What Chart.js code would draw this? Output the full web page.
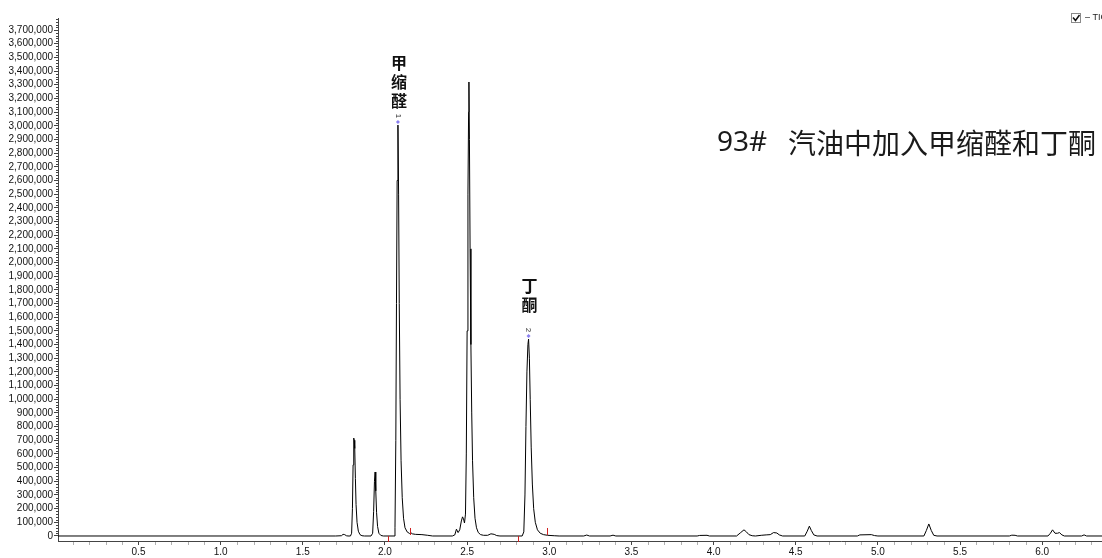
<!DOCTYPE html>
<html>
<head>
<meta charset="utf-8">
<script src="https://cdn.jsdelivr.net/npm/chart.js@4"></script>
<style>
  html, body { margin: 0; padding: 0; background: #fff; }
  canvas { display: block; }
</style>
</head>
<body>
<canvas id="tic" width="1102" height="558"></canvas>
<script>
// Retention time (min) of each sampled point of the TIC trace
const retentionTime = [
  0.01, 1.70, 1.735, 1.745, 1.755, 1.765, 1.775, 1.790,
  1.797, 1.802, 1.806, 1.810, 1.813, 1.816, 1.820, 1.824, 1.830, 1.838, 1.848, 1.860, 1.875,
  1.915, 1.925, 1.931, 1.936, 1.940, 1.944, 1.949, 1.955, 1.963, 1.975, 1.990,
  2.055, 2.061, 2.066, 2.070, 2.074, 2.079, 2.083, 2.087, 2.092, 2.098, 2.105, 2.113, 2.122,
  2.135, 2.150, 2.158, 2.166, 2.185, 2.225, 2.260, 2.290,
  2.410, 2.425, 2.435, 2.445, 2.455, 2.465, 2.472, 2.478, 2.484, 2.490, 2.495, 2.500, 2.505,
  2.509, 2.511, 2.514, 2.518, 2.523, 2.528, 2.533, 2.540, 2.548, 2.557, 2.568, 2.582, 2.600,
  2.625, 2.645, 2.665, 2.680, 2.700,
  2.835, 2.845, 2.852, 2.858, 2.864, 2.870, 2.874, 2.879, 2.884, 2.890, 2.897, 2.905, 2.915,
  2.928, 2.945, 2.965, 2.990, 3.030, 3.060,
  3.210, 3.228, 3.245, 3.370, 3.388, 3.405,
  3.900, 3.915, 3.960, 3.975,
  4.140, 4.165, 4.185, 4.200, 4.215, 4.235, 4.255, 4.290, 4.320, 4.345, 4.365, 4.385, 4.400, 4.420,
  4.555, 4.570, 4.583, 4.595, 4.610, 4.630,
  4.875, 4.890, 4.960, 4.980, 5.000,
  5.280, 5.295, 5.310, 5.325, 5.340, 5.360,
  5.800, 5.815, 5.835, 5.850,
  6.035, 6.050, 6.063, 6.078, 6.093, 6.105, 6.120, 6.135,
  6.240, 6.255, 6.270, 6.364
];

// Abundance (counts) at each retention time above
const abundance = [
  0, 0, 2000, 12000, 10000, 2000, 0, 0,
  20000, 200000, 520000, 716000, 700000, 640000, 420000, 230000, 100000, 35000, 10000, 2000, 0,
  0, 20000, 180000, 400000, 468000, 330000, 170000, 70000, 20000, 4000, 0,
  0, 60000, 700000, 1700000, 2600000, 3005000, 2500000, 1700000, 1000000, 550000, 280000, 130000, 60000,
  30000, 18000, 24000, 16000, 12000, 10000, 5000, 0,
  0, 8000, 50000, 25000, 45000, 110000, 140000, 125000, 95000, 160000, 600000, 1500000, 2500000,
  3100000, 3320000, 2900000, 2100000, 1400000, 900000, 550000, 280000, 130000, 60000, 25000, 10000, 5000,
  5000, 16000, 12000, 3000, 0,
  0, 30000, 300000, 800000, 1200000, 1400000, 1440000, 1300000, 1000000, 650000, 380000, 200000, 100000,
  45000, 20000, 10000, 5000, 2000, 0,
  0, 7000, 0, 0, 6000, 0,
  0, 4000, 5000, 0,
  0, 25000, 45000, 30000, 10000, 2000, 0, 5000, 8000, 10000, 25000, 22000, 8000, 0,
  0, 35000, 72000, 40000, 8000, 0,
  0, 8000, 10000, 3000, 0,
  0, 40000, 88000, 40000, 5000, 0,
  0, 6000, 5000, 0,
  0, 20000, 45000, 20000, 20000, 25000, 8000, 0,
  0, 8000, 0, 0
];

// Axis tick labels
const xTicks = [0.5, 1.0, 1.5, 2.0, 2.5, 3.0, 3.5, 4.0, 4.5, 5.0, 5.5, 6.0];
const yTicks = [
  0, 100000, 200000, 300000, 400000, 500000, 600000, 700000, 800000, 900000,
  1000000, 1100000, 1200000, 1300000, 1400000, 1500000, 1600000, 1700000, 1800000, 1900000,
  2000000, 2100000, 2200000, 2300000, 2400000, 2500000, 2600000, 2700000, 2800000, 2900000,
  3000000, 3100000, 3200000, 3300000, 3400000, 3500000, 3600000, 3700000
];

// Identified peaks: apex time, apex abundance, peak number, compound name
const peakTimes = [2.079, 2.874];
const peakHeights = [3005000, 1440000];
const peakNumbers = ['1', '2'];
const peakNames = ['甲缩醛', '丁酮'];

// Integration start/end marks (min) and whether they sit below or above the baseline
const markTimes = [2.018, 2.152, 2.810, 2.986];
const markSides = ['below', 'above', 'below', 'above'];

const titleNumber = '93#';
const titleText = '汽油中加入甲缩醛和丁酮';

const AXIS = '#444';
const LABEL_FONT = '10px "Liberation Sans", Arial, sans-serif';

const decorations = {
  id: 'decorations',
  afterDatasetsDraw(chart) {
    const { ctx, scales: { x, y }, chartArea } = chart;
    ctx.save();

    // minor ticks on the abundance axis
    ctx.strokeStyle = AXIS;
    ctx.lineWidth = 1;
    ctx.beginPath();
    for (let v = 20000; v <= 3780000; v += 20000) {
      if (v % 100000 === 0) continue;
      const py = Math.round(y.getPixelForValue(v)) + 0.5;
      ctx.moveTo(chartArea.left - 2, py);
      ctx.lineTo(chartArea.left, py);
    }
    ctx.stroke();

    // minor ticks on the time axis
    ctx.strokeStyle = '#b0b0b0';
    ctx.beginPath();
    for (let k = 1; k <= 63; k++) {
      if (k % 5 === 0) continue;
      const px = Math.round(x.getPixelForValue(k / 10)) + 0.5;
      ctx.moveTo(px, chartArea.bottom + 1);
      ctx.lineTo(px, chartArea.bottom + 4);
    }
    ctx.stroke();

    // integration marks
    const base = y.getPixelForValue(0);
    ctx.strokeStyle = '#d02020';
    ctx.beginPath();
    markTimes.forEach((t, i) => {
      const px = Math.round(x.getPixelForValue(t)) + 0.5;
      if (markSides[i] === 'below') {
        ctx.moveTo(px, base);
        ctx.lineTo(px, base + 6);
      } else {
        ctx.moveTo(px, base - 1);
        ctx.lineTo(px, base - 8);
      }
    });
    ctx.stroke();

    // peak markers and compound names
    const nameLift = [18, 28];
    peakTimes.forEach((t, i) => {
      const px = x.getPixelForValue(t);
      const py = y.getPixelForValue(peakHeights[i]);
      // diamond
      ctx.fillStyle = '#8a7ff0';
      ctx.beginPath();
      ctx.moveTo(px, py - 5);
      ctx.lineTo(px + 2, py - 3);
      ctx.lineTo(px, py - 1);
      ctx.lineTo(px - 2, py - 3);
      ctx.closePath();
      ctx.fill();
      // rotated peak number
      ctx.save();
      ctx.translate(px, py - 9);
      ctx.rotate(Math.PI / 2);
      ctx.fillStyle = '#333';
      ctx.font = '8px "Liberation Sans", Arial, sans-serif';
      ctx.textAlign = 'center';
      ctx.textBaseline = 'middle';
      ctx.fillText(peakNumbers[i], 0, 0);
      ctx.restore();
      // vertical compound name
      ctx.fillStyle = '#111';
      ctx.font = 'bold 16px "Noto Sans CJK SC", sans-serif';
      ctx.textAlign = 'center';
      ctx.textBaseline = 'bottom';
      const chars = Array.from(peakNames[i]);
      const bottom = py - nameLift[i];
      chars.forEach((c, j) => {
        ctx.fillText(c, px + 1, bottom - (chars.length - 1 - j) * 19 + 2);
      });
    });

    // sample title
    ctx.fillStyle = '#1a1a1a';
    ctx.textBaseline = 'middle';
    ctx.textAlign = 'left';
    ctx.font = '28px "Noto Sans", "Noto Sans CJK SC", sans-serif';
    ctx.fillText(titleNumber, 717, 143);
    ctx.font = '28px "Noto Sans CJK SC", sans-serif';
    ctx.fillText(titleText, 788, 143);

    // trace selector in the corner
    ctx.strokeStyle = '#8a8a8a';
    ctx.lineWidth = 1;
    ctx.strokeRect(1071.5, 13.5, 9, 9);
    ctx.strokeStyle = '#111';
    ctx.lineWidth = 1.5;
    ctx.beginPath();
    ctx.moveTo(1073, 17.5);
    ctx.lineTo(1075.5, 20.5);
    ctx.lineTo(1079.5, 15);
    ctx.stroke();
    ctx.fillStyle = '#222';
    ctx.font = '9px "Liberation Sans", Arial, sans-serif';
    ctx.textBaseline = 'middle';
    ctx.fillText('– TIC: 1.D', 1085, 18);

    ctx.restore();
  }
};

new Chart(document.getElementById('tic'), {
  type: 'line',
  data: {
    datasets: [{
      data: retentionTime.map((t, i) => ({ x: t, y: abundance[i] })),
      borderColor: '#000',
      borderWidth: 1,
      pointRadius: 0,
      tension: 0,
      fill: false
    }]
  },
  options: {
    responsive: false,
    animation: false,
    events: [],
    layout: { padding: { top: 18, left: 0, right: 0, bottom: 0 } },
    plugins: { legend: { display: false }, tooltip: { enabled: false } },
    scales: {
      x: {
        type: 'linear',
        min: 0.01,
        max: 6.364,
        afterBuildTicks: s => { s.ticks = xTicks.map(v => ({ value: v })); },
        afterFit: s => { s.height = 17; },
        ticks: {
          autoSkip: false,
          maxRotation: 0,
          padding: 1,
          color: '#111',
          font: { family: '"Liberation Sans", Arial, sans-serif', size: 10 },
          callback: v => Number(v).toFixed(1)
        },
        grid: { drawOnChartArea: false, drawTicks: true, tickLength: 4, color: AXIS },
        border: { color: AXIS }
      },
      y: {
        min: -36600,
        max: 3788000,
        afterBuildTicks: s => { s.ticks = yTicks.map(v => ({ value: v })); },
        afterFit: s => { s.width = 58; },
        ticks: {
          autoSkip: false,
          padding: 1,
          color: '#111',
          font: { family: '"Liberation Sans", Arial, sans-serif', size: 10 },
          callback: v => Number(v).toLocaleString('en-US')
        },
        grid: { drawOnChartArea: false, drawTicks: true, tickLength: 4, color: AXIS },
        border: { color: AXIS }
      }
    }
  },
  plugins: [decorations]
});
</script>
</body>
</html>
